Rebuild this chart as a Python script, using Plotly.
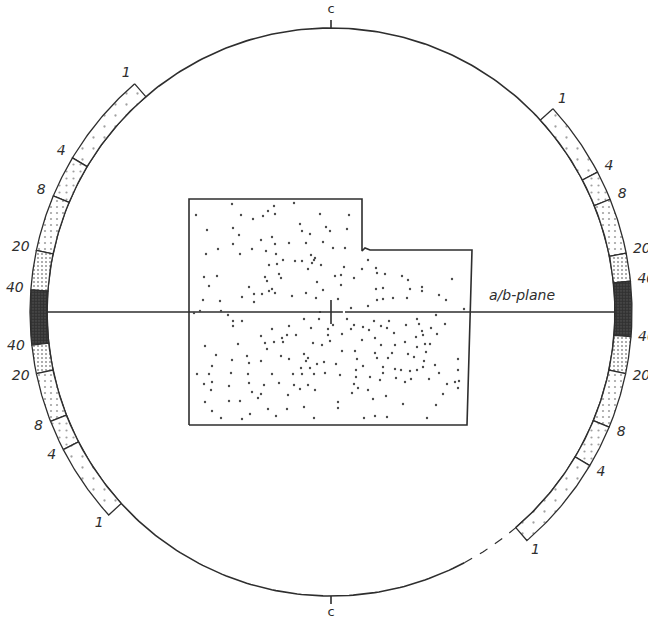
import numpy as np
import plotly.graph_objects as go

# ---------------- data (drawing units: circle radius = 284, origin at centre) -------------
R_CIRCLE = 284
R_BAND = 301

# contour-band boundaries (degrees, counter-clockwise from the a/b-plane, right = 0)
left_bounds = [130.7, 149.2, 157.3, 168.2, 175.8, 186.3, 191.8, 201.3, 207.2, 222.4]
right_bounds = [42.5, 27.7, 22.0, 11.3, 5.9, -4.7, -11.8, -22.5, -30.7, -49.4]
bound_levels = [1, 4, 8, 20, 40, 40, 20, 8, 4, 1]
bound_labels = ["1", "4", "8", "20", "40", "40", "20", "8", "4", "1"]

# outline of the sampled region
region_x = [-142, -142, 31, 31, 34, 39, 141, 136, -142]
region_y = [-113, 113, 113, 61, 64, 62, 62, -113, -113]

# individual measurements (projected points)
dots = [
    (-99, 108), (-57, 106), (-37, 109), (-135, 97), (-90, 97), (-68, 96), (-63, 101), (-56, 98),
    (-78, 93), (-11, 98), (18, 97), (-124, 82), (-98, 84), (-31, 88), (-29, 81), (-21, 78),
    (-5, 85), (-1, 81), (16, 83), (-92, 77), (-59, 75), (-70, 72), (-98, 68), (-113, 63),
    (-79, 63), (-56, 68), (-42, 69), (-25, 69), (-8, 70), (2, 64), (14, 64), (-125, 58),
    (-91, 58), (-65, 61), (-55, 58), (-20, 57), (-16, 54), (-48, 52), (-36, 51), (-29, 51),
    (-17, 52), (-19, 49), (-62, 47), (-54, 48), (-10, 47), (-23, 43), (13, 45), (31, 43),
    (37, 52), (45, 44), (54, 38), (46, 39), (-127, 35), (-114, 36), (-66, 35), (-52, 38),
    (-50, 34), (4, 36), (10, 37), (23, 34), (71, 36), (77, 32), (121, 33), (-122, 26),
    (-82, 25), (-64, 31), (-59, 23), (-62, 21), (-69, 18), (-56, 19), (-14, 30), (-8, 22),
    (10, 27), (45, 23), (52, 24), (79, 23), (91, 25), (91, 21), (108, 17), (-128, 12),
    (-111, 11), (-89, 15), (-77, 18), (-77, 10), (-39, 16), (-25, 19), (-15, 14), (7, 13),
    (46, 12), (52, 13), (62, 14), (76, 14), (115, 12), (-137, -1), (-131, 1), (-110, 1),
    (-103, -3), (20, 4), (37, 6), (133, 3), (105, -3),
    (-98, -9), (-89, -9), (-27, -7), (-12, -7), (16, -7), (2, -13), (-98, -14), (23, -13),
    (43, -9), (58, -9), (75, -13), (86, -7), (88, -12), (114, -12), (32, -15), (50, -14),
    (-59, -17), (-42, -14), (-20, -16), (-3, -17), (20, -17), (38, -18), (56, -16), (91, -19),
    (100, -16), (106, -22), (92, -23), (-70, -24), (-49, -26), (-44, -23), (-35, -23), (-3, -23),
    (11, -22), (63, -21), (85, -25), (-93, -32), (-66, -31), (-57, -30), (-48, -30), (-18, -31),
    (-9, -33), (-1, -29), (31, -28), (44, -26), (50, -33), (64, -33), (74, -30), (86, -35),
    (94, -32), (99, -32), (-126, -34), (-64, -37), (11, -39), (24, -39), (44, -41), (61, -41),
    (77, -42), (95, -40), (-115, -43), (-84, -44), (-50, -44), (-42, -47), (-27, -42), (-23, -46),
    (-25, -49), (-14, -52), (-7, -50), (5, -52), (26, -47), (46, -46), (57, -46), (83, -45),
    (93, -49), (104, -53), (127, -47), (32, -54), (-119, -54), (-99, -48), (-82, -51), (-70, -49),
    (-30, -56), (-21, -56), (25, -58), (52, -55), (64, -57), (70, -58), (79, -59), (86, -58),
    (92, -55), (108, -61), (127, -58), (-100, -61), (-134, -62), (-122, -62), (-83, -62), (-59, -62),
    (-38, -62), (-29, -62), (-17, -62), (-6, -61), (9, -63), (25, -65), (39, -65), (52, -61),
    (65, -66), (80, -67), (98, -67), (128, -69), (-119, -70), (-127, -72), (-102, -74), (-82, -71),
    (-67, -73), (-52, -71), (-37, -73), (-23, -73), (23, -72), (27, -76), (37, -78), (49, -68),
    (74, -70), (116, -72), (124, -70), (127, -76), (-120, -78), (-79, -80), (-70, -82), (-43, -83),
    (-31, -77), (-16, -78), (21, -81), (42, -87), (55, -84), (112, -82), (-73, -86), (-126, -90),
    (-102, -89), (-91, -89), (7, -90), (7, -96), (72, -92), (105, -93), (-119, -99), (-63, -97),
    (-44, -97), (-27, -95), (-81, -102), (-110, -106), (-89, -107), (-55, -104), (-17, -106),
    (33, -106), (44, -104), (56, -105), (96, -106),
]
dots_x = [d[0] for d in dots]
dots_y = [d[1] for d in dots]

# ---------------- styles ----------------
INK = "#2e2e2e"
patterns = {
    1: dict(shape=".", size=11, solidity=0.035, fgcolor="#444", bgcolor="white"),
    4: dict(shape=".", size=7, solidity=0.08, fgcolor="#444", bgcolor="white"),
    8: dict(shape=".", size=6, solidity=0.11, fgcolor="#444", bgcolor="white"),
    20: dict(shape=".", size=4, solidity=0.22, fgcolor="#333", bgcolor="white"),
    40: dict(shape=".", size=3, solidity=0.7, fgcolor="#111111", bgcolor="#505050"),
}


def arc(r, a0, a1, n=60):
    t = np.radians(np.linspace(a0, a1, n))
    return list(r * np.cos(t)), list(r * np.sin(t))


fig = go.Figure()

# main circle: solid part and faint dashed part
cx, cy = arc(R_CIRCLE, -49.4, 298, 400)
fig.add_trace(go.Scatter(x=cx, y=cy, mode="lines", line=dict(color=INK, width=1.6),
                         hoverinfo="skip", showlegend=False))
cx, cy = arc(R_CIRCLE, 298, 310.6, 30)
fig.add_trace(go.Scatter(x=cx, y=cy, mode="lines", line=dict(color=INK, width=1.2, dash="dash"),
                         hoverinfo="skip", showlegend=False))

# density bands
for bounds in (left_bounds, right_bounds):
    for i in range(len(bounds) - 1):
        a0, a1 = bounds[i], bounds[i + 1]
        cls = min(bound_levels[i], bound_levels[i + 1])
        ox, oy = arc(R_BAND, a0, a1, 40)
        ix, iy = arc(R_CIRCLE, a1, a0, 40)
        px = ox + ix + [ox[0]]
        py = oy + iy + [oy[0]]
        fig.add_trace(go.Scatter(x=px, y=py, mode="lines", fill="toself",
                                 fillcolor=patterns[cls]["bgcolor"],
                                 fillpattern=patterns[cls],
                                 line=dict(color=INK, width=1.3),
                                 hoverinfo="skip", showlegend=False))

# band labels
lx, ly, lt = [], [], []
for bounds in (left_bounds, right_bounds):
    for a, lab in zip(bounds, bound_labels):
        r = 311 + 3 * len(lab)
        lx.append(r * np.cos(np.radians(a)))
        ly.append(r * np.sin(np.radians(a)))
        lt.append(lab)
fig.add_trace(go.Scatter(x=lx, y=ly, text=lt, mode="text", textposition="middle center",
                         textfont=dict(family="DejaVu Sans", size=14, color=INK, style="italic"),
                         hoverinfo="skip", showlegend=False))

# c-axis ticks and labels
for a in (90, 270):
    tx, ty = arc(R_CIRCLE, a, a, 2)
    tx2, ty2 = arc(R_CIRCLE + 8, a, a, 2)
    fig.add_trace(go.Scatter(x=[tx[0], tx2[0]], y=[ty[0], ty2[0]], mode="lines",
                             line=dict(color=INK, width=1.6), hoverinfo="skip", showlegend=False))
fig.add_trace(go.Scatter(x=[0, 0], y=[302, -301], text=["c", "c"], mode="text",
                         textfont=dict(family="DejaVu Sans", size=13, color=INK),
                         hoverinfo="skip", showlegend=False))

# a/b-plane line with centre cross
fig.add_trace(go.Scatter(x=[-R_CIRCLE, -10, None, 14, R_CIRCLE], y=[0, 0, None, 0, 0], mode="lines",
                         line=dict(color=INK, width=1.5), hoverinfo="skip", showlegend=False))
fig.add_trace(go.Scatter(x=[0], y=[0], mode="markers",
                         marker=dict(symbol="cross-thin", size=17, line=dict(color=INK, width=1.6)),
                         hoverinfo="skip", showlegend=False))
fig.add_trace(go.Scatter(x=[191], y=[16], text=["a/b-plane"], mode="text",
                         textfont=dict(family="DejaVu Sans", size=14, color=INK, style="italic"),
                         hoverinfo="skip", showlegend=False))

# sampled region and points
fig.add_trace(go.Scatter(x=region_x, y=region_y, mode="lines", line=dict(color=INK, width=1.6),
                         hoverinfo="skip", showlegend=False))
fig.add_trace(go.Scatter(x=dots_x, y=dots_y, mode="markers",
                         marker=dict(size=2.4, color="#4a4a4a"), hoverinfo="skip", showlegend=False))

fig.update_layout(
    width=648, height=621,
    margin=dict(l=0, r=0, t=0, b=0),
    paper_bgcolor="white", plot_bgcolor="white",
    xaxis=dict(range=[-331, 317], visible=False, fixedrange=True),
    yaxis=dict(range=[-309, 312], visible=False, fixedrange=True),
    showlegend=False,
)

fig.write_html(
    "out.html",
    config={"displayModeBar": False},
    post_script="document.body.style.margin='0';document.body.style.overflow='hidden';",
)
